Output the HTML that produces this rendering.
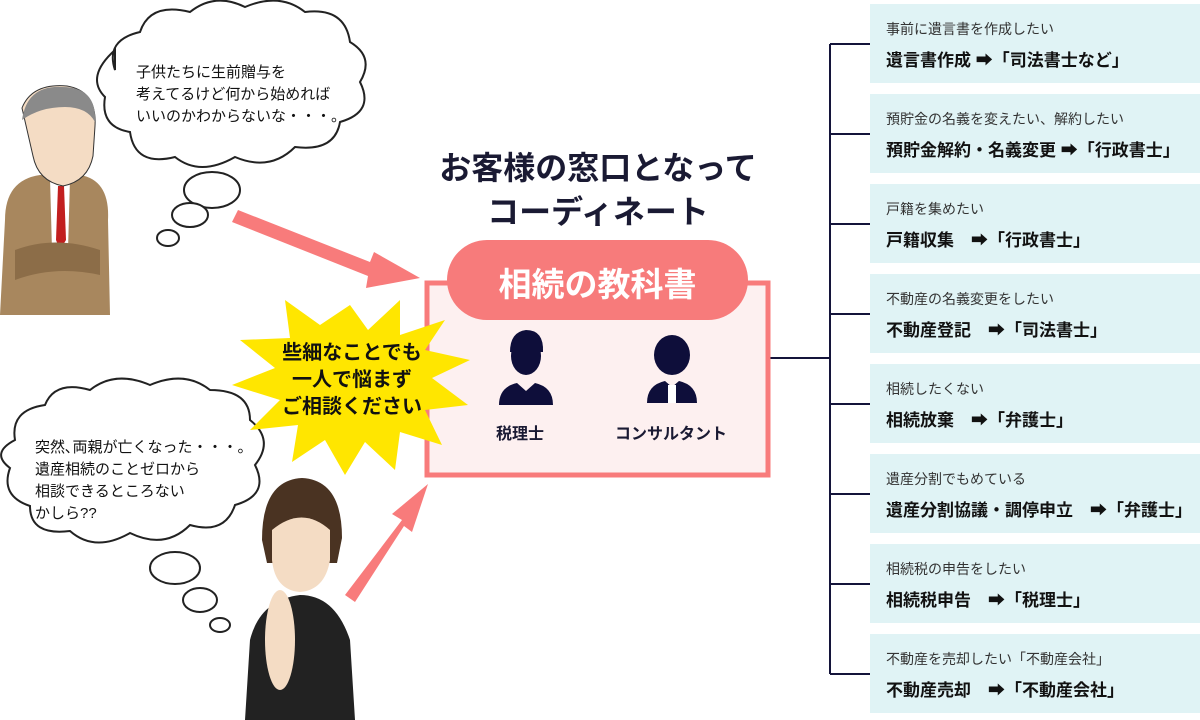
<!DOCTYPE html>
<html><head><meta charset="utf-8"><style>
body{margin:0;width:1200px;height:720px;background:#fff;position:relative;overflow:hidden;font-family:"Liberation Sans","Noto Sans CJK JP",sans-serif;color:#1a1a33}
.box{position:absolute;left:870px;width:330px;height:79px;background:#e0f3f5}
.box .s{position:absolute;left:16px;top:15px;font-size:14px;color:#333}
.box .b{position:absolute;left:16px;top:42px;font-size:17px;font-weight:bold;color:#111}
.t{position:absolute;white-space:nowrap}
</style></head><body>
<svg width="1200" height="720" style="position:absolute;left:0;top:0">
<g stroke="#14143a" stroke-width="2" fill="none">
<line x1="830" y1="44" x2="830" y2="674"/>
<line x1="770" y1="358" x2="830" y2="358"/>
<line x1="830" y1="44" x2="870" y2="44"/><line x1="830" y1="134" x2="870" y2="134"/>
<line x1="830" y1="224" x2="870" y2="224"/><line x1="830" y1="314" x2="870" y2="314"/>
<line x1="830" y1="404" x2="870" y2="404"/><line x1="830" y1="494" x2="870" y2="494"/>
<line x1="830" y1="584" x2="870" y2="584"/><line x1="830" y1="674" x2="870" y2="674"/>
</g>
<rect x="427" y="283" width="341" height="192" fill="#fdf0f0" stroke="#f87b7b" stroke-width="5"/>
<rect x="447" y="240" width="301" height="80" rx="40" fill="#f77b7b"/>
<polygon points="238,210 370,262 374,252 420,278 366,288 368,276 232,222" fill="#f87b7b"/>
<polygon points="345,595 402,520 392,514 428,484 412,532 404,526 355,602" fill="#f87b7b"/>
<g fill="#fff" stroke="#222" stroke-width="2">
<path d="M115,70 q-10,-30 25,-38 q10,-30 50,-20 q25,-20 55,-5 q35,-15 60,5 q40,-5 45,30 q25,15 10,40 q15,30 -20,40 q-5,30 -45,25 q-25,25 -60,10 q-35,20 -60,0 q-40,10 -45,-25 q-30,-5 -25,-35 q-20,-20 10,-47z"/>
<ellipse cx="212" cy="190" rx="28" ry="18"/><ellipse cx="190" cy="215" rx="18" ry="12"/><ellipse cx="168" cy="238" rx="11" ry="8"/>
<path d="M15,440 q-5,-30 30,-35 q10,-25 45,-15 q25,-20 60,-5 q35,-15 60,5 q40,0 40,30 q25,20 5,45 q15,30 -20,40 q-10,30 -45,20 q-25,25 -60,8 q-35,20 -60,-2 q-40,5 -40,-25 q-30,-10 -20,-38 q-20,-15 5,-28z"/>
<ellipse cx="175" cy="568" rx="25" ry="16"/><ellipse cx="200" cy="600" rx="17" ry="12"/><ellipse cx="220" cy="625" rx="10" ry="7"/>
</g>
<polygon fill="#ffe600" points="350,305 368,330 400,300 400,335 445,320 425,350 470,360 432,378 468,405 425,410 442,445 400,432 395,470 365,442 345,475 325,440 292,462 298,425 250,430 280,400 232,385 275,368 240,340 290,338 285,300 320,325" />
<g fill="#0e0e3a">
<ellipse cx="526" cy="356" rx="15" ry="19"/><path d="M510,352 q0,-20 16,-22 q18,0 17,22z"/>
<path d="M499,405 q0,-18 18,-22 l9,8 l9,-8 q18,4 18,22z"/>
<ellipse cx="672" cy="355" rx="18" ry="20"/>
<path d="M647,403 q0,-18 18,-22 l7,6 l7,-6 q18,4 18,22z"/>
</g>
<rect x="668" y="385" width="8" height="18" fill="#fff"/>
<g>
<path d="M5,220 q0,-40 35,-45 l20,0 l20,0 q30,5 28,45 l2,95 l-110,0z" fill="#a8875e"/>
<polygon points="50,178 70,178 68,250 60,260 52,250" fill="#fff"/>
<polygon points="58,186 64,186 66,240 60,250 56,240" fill="#c21f1f"/>
<path d="M15,250 q40,-15 85,0 l0,25 q-45,-10 -85,5z" fill="#8c6d48"/>
<path d="M22,108 q10,-25 45,-22 q30,5 28,40 l-2,30 q-5,25 -30,30 q-25,-5 -30,-30z" fill="#f4dcc4" stroke="#333"/>
<path d="M22,120 q5,-35 40,-33 q35,0 33,35 q-8,-15 -30,-15 q-25,0 -43,13z" fill="#8a8a8a"/>
</g>
<g>
<path d="M262,540 q0,-60 40,-62 q40,2 40,60 l-5,25 l-70,0z" fill="#4a3322"/>
<path d="M272,530 q30,-25 58,0 l0,30 q-5,30 -30,32 q-25,-2 -28,-32z" fill="#f4dcc4"/>
<path d="M245,720 l5,-80 q10,-40 50,-45 q35,0 50,45 l5,80z" fill="#222"/>
<ellipse cx="280" cy="640" rx="15" ry="50" fill="#f4dcc4"/>
</g>
</svg>
<div class="t" style="left:420px;width:356px;text-align:center;top:146px;font-size:32px;font-weight:bold;line-height:44px">お客様の窓口となって<br>コーディネート</div>
<div class="t" style="left:447px;width:301px;text-align:center;top:258px;font-size:33px;font-weight:bold;color:#fff">相続の教科書</div>
<div class="t" style="left:496px;top:420px;font-size:16px;font-weight:bold">税理士</div>
<div class="t" style="left:615px;top:420px;font-size:16px;font-weight:bold">コンサルタント</div>
<div class="t" style="left:262px;top:340px;width:180px;text-align:center;font-size:20px;font-weight:bold;line-height:27px;color:#111">些細なことでも<br>一人で悩まず<br>ご相談ください</div>
<div class="t" style="left:136px;top:62px;font-size:15px;line-height:22px;color:#111">子供たちに生前贈与を<br>考えてるけど何から始めれば<br>いいのかわからないな・・・。</div>
<div class="t" style="left:35px;top:437px;font-size:15px;line-height:22px;color:#111">突然､両親が亡くなった・・・。<br>遺産相続のことゼロから<br>相談できるところない<br>かしら??</div>
<div class="box" style="top:4px"><div class="s">事前に遺言書を作成したい</div><div class="b">遺言書作成 ➡「司法書士など」</div></div>
<div class="box" style="top:94px"><div class="s">預貯金の名義を変えたい、解約したい</div><div class="b">預貯金解約・名義変更 ➡「行政書士」</div></div>
<div class="box" style="top:184px"><div class="s">戸籍を集めたい</div><div class="b">戸籍収集　➡「行政書士」</div></div>
<div class="box" style="top:274px"><div class="s">不動産の名義変更をしたい</div><div class="b">不動産登記　➡「司法書士」</div></div>
<div class="box" style="top:364px"><div class="s">相続したくない</div><div class="b">相続放棄　➡「弁護士」</div></div>
<div class="box" style="top:454px"><div class="s">遺産分割でもめている</div><div class="b">遺産分割協議・調停申立　➡「弁護士」</div></div>
<div class="box" style="top:544px"><div class="s">相続税の申告をしたい</div><div class="b">相続税申告　➡「税理士」</div></div>
<div class="box" style="top:634px"><div class="s">不動産を売却したい「不動産会社」</div><div class="b">不動産売却　➡「不動産会社」</div></div>
</body></html>
